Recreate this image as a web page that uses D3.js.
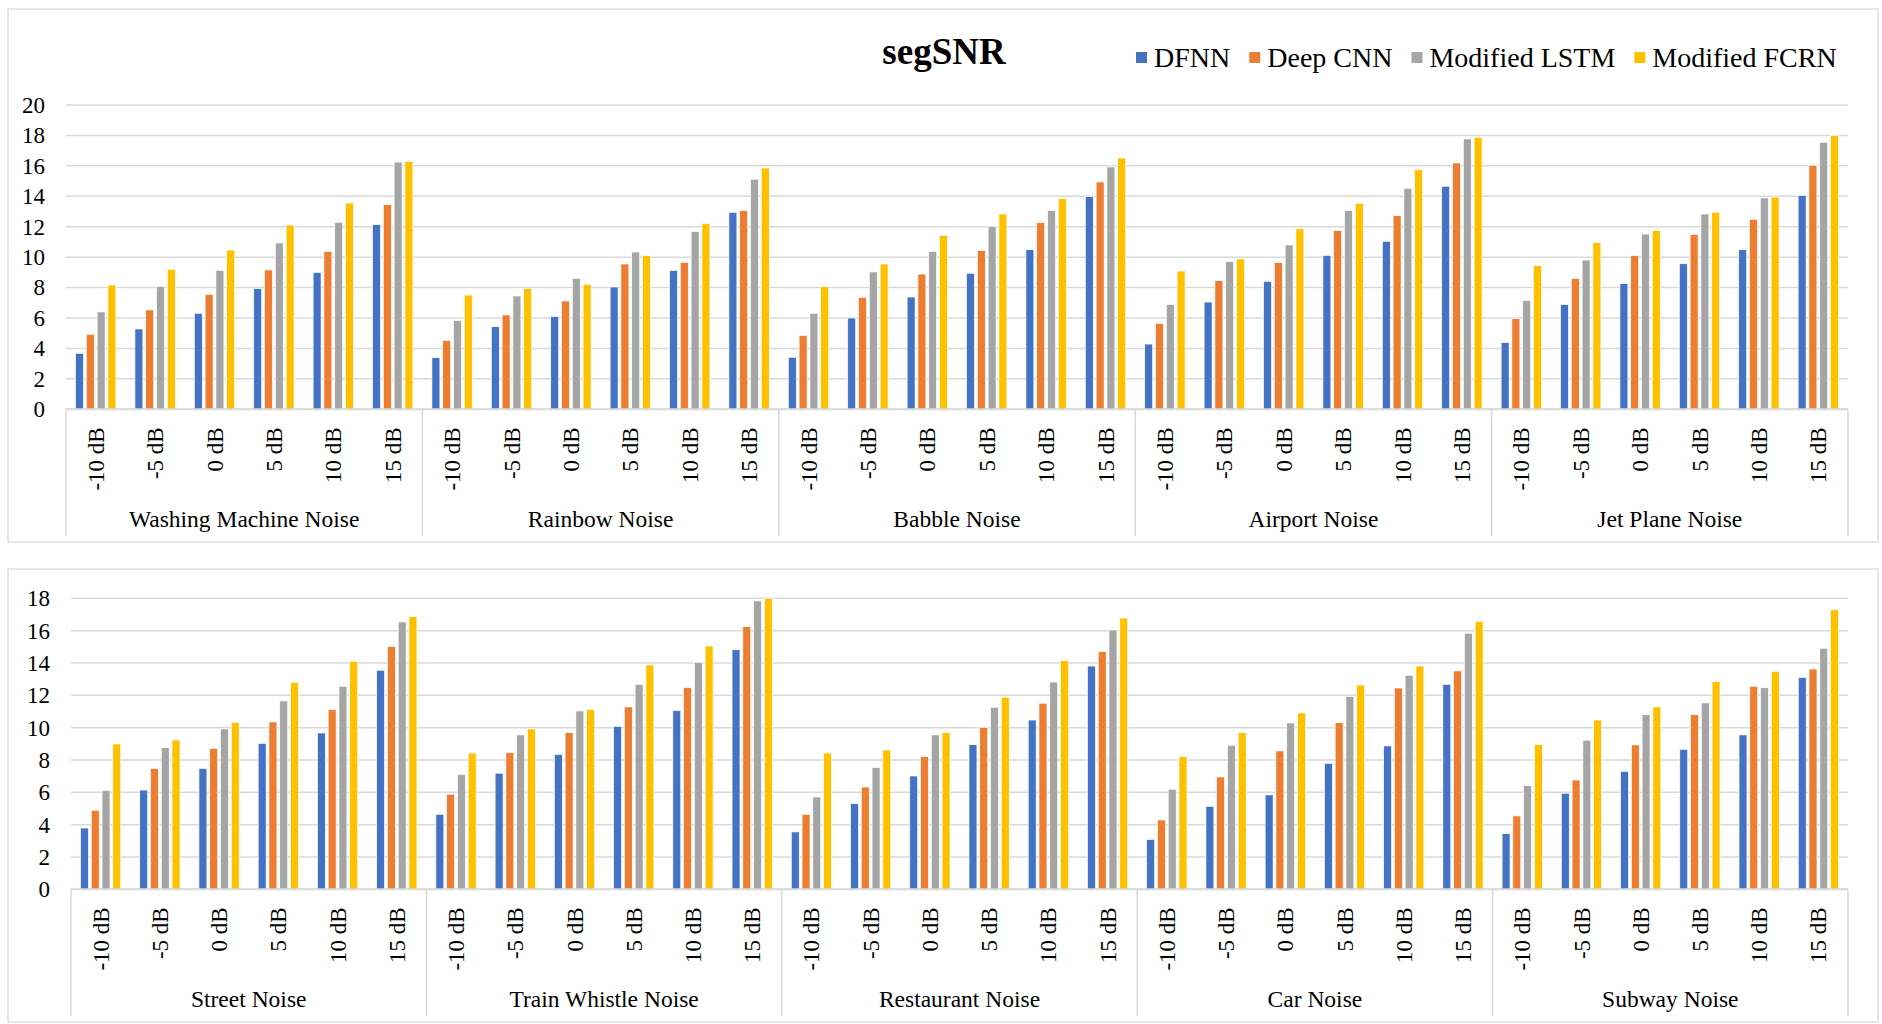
<!DOCTYPE html>
<html>
<head>
<meta charset="utf-8">
<script src="https://cdn.jsdelivr.net/npm/d3@7"></script>
<style>
  html, body { margin: 0; padding: 0; background: #fff; }
  svg { display: block; }
  text { font-family: "Liberation Serif", "Times New Roman", serif; fill: #000; }
</style>
</head>
<body>
<script>
// Categories
const levels = ["-10 dB", "-5 dB", "0 dB", "5 dB", "10 dB", "15 dB"];
const topNoises = ["Washing Machine Noise", "Rainbow Noise", "Babble Noise", "Airport Noise", "Jet Plane Noise"];
const bottomNoises = ["Street Noise", "Train Whistle Noise", "Restaurant Noise", "Car Noise", "Subway Noise"];
const seriesNames = ["DFNN", "Deep CNN", "Modified LSTM", "Modified FCRN"];
const seriesColors = ["#4472C4", "#ED7D31", "#A5A5A5", "#FFC000"];
const chartTitle = "segSNR";

// Tick values
const topTicks = [0, 2, 4, 6, 8, 10, 12, 14, 16, 18, 20];
const bottomTicks = [0, 2, 4, 6, 8, 10, 12, 14, 16, 18];

// segSNR values, upper panel (6 levels per noise, noises in order)
const dfnnTop = [3.68, 5.28, 6.31, 7.93, 9.00, 12.14,
                 3.40, 5.43, 6.11, 8.04, 9.13, 12.95,
                 3.42, 6.00, 7.38, 8.94, 10.49, 13.98,
                 4.29, 7.05, 8.41, 10.12, 11.04, 14.66,
                 4.38, 6.88, 8.26, 9.57, 10.49, 14.06];
const cnnTop  = [4.93, 6.53, 7.56, 9.16, 10.38, 13.45,
                 4.53, 6.20, 7.12, 9.55, 9.66, 13.06,
                 4.86, 7.36, 8.89, 10.43, 12.27, 14.94,
                 5.65, 8.46, 9.64, 11.76, 12.73, 16.19,
                 5.96, 8.61, 10.10, 11.50, 12.49, 16.04];
const lstmTop = [6.40, 8.08, 9.13, 10.93, 12.29, 16.25,
                 5.83, 7.45, 8.61, 10.34, 11.68, 15.12,
                 6.31, 9.03, 10.38, 12.03, 13.06, 15.93,
                 6.88, 9.70, 10.80, 13.06, 14.52, 17.77,
                 7.14, 9.81, 11.52, 12.84, 13.89, 17.55];
const fcrnTop = [8.17, 9.20, 10.47, 12.11, 13.56, 16.30,
                 7.51, 7.93, 8.21, 10.10, 12.22, 15.86,
                 8.06, 9.55, 11.43, 12.84, 13.84, 16.52,
                 9.09, 9.88, 11.87, 13.54, 15.77, 17.88,
                 9.44, 10.97, 11.74, 12.95, 13.95, 17.98];

// segSNR values, lower panel
const dfnnBottom = [3.79, 6.14, 7.48, 9.03, 9.67, 13.55,
                    4.64, 7.18, 8.35, 10.08, 11.05, 14.82,
                    3.55, 5.30, 7.01, 8.95, 10.47, 13.81,
                    3.09, 5.13, 5.84, 7.79, 8.87, 12.68,
                    3.44, 5.94, 7.30, 8.66, 9.55, 13.11];
const cnnBottom  = [4.89, 7.46, 8.72, 10.35, 11.11, 15.03,
                    5.88, 8.45, 9.69, 11.28, 12.47, 16.25,
                    4.64, 6.33, 8.21, 10.02, 11.51, 14.72,
                    4.29, 6.95, 8.56, 10.31, 12.45, 13.51,
                    4.54, 6.76, 8.93, 10.80, 12.56, 13.63];
const lstmBottom = [6.12, 8.76, 9.92, 11.65, 12.56, 16.54,
                    7.11, 9.55, 11.03, 12.68, 14.04, 17.84,
                    5.71, 7.53, 9.55, 11.26, 12.82, 16.04,
                    6.19, 8.91, 10.29, 11.92, 13.24, 15.84,
                    6.41, 9.22, 10.80, 11.53, 12.47, 14.91];
const fcrnBottom = [8.99, 9.24, 10.33, 12.80, 14.10, 16.87,
                    8.43, 9.92, 11.13, 13.88, 15.05, 18.00,
                    8.43, 8.62, 9.69, 11.88, 14.14, 16.78,
                    8.21, 9.69, 10.91, 12.64, 13.81, 16.58,
                    8.95, 10.47, 11.28, 12.85, 13.48, 17.30];

const W = 1882, H = 1024;
const GRID = "#d9d9d9";

const svg = d3.select("body").append("svg").attr("width", W).attr("height", H);

function drawPanel(cfg) {
  const g = svg.append("g");

  // outer chart frame
  g.append("rect")
    .attr("x", cfg.frame.x).attr("y", cfg.frame.y)
    .attr("width", cfg.frame.w).attr("height", cfg.frame.h)
    .attr("fill", "#fff").attr("stroke", GRID).attr("stroke-width", 1.3);

  const keys = cfg.noises.flatMap(n => levels.map(l => n + "|" + l));
  const x0 = d3.scaleBand().domain(keys)
    .range([cfg.left, cfg.right]).paddingInner(0.32).paddingOuter(0.16);
  const x1 = d3.scaleBand().domain(seriesNames)
    .range([0, x0.bandwidth()]).paddingInner(0.26);
  const xg = d3.scaleBand().domain(cfg.noises).range([cfg.left, cfg.right]);
  const y = d3.scaleLinear().domain([0, d3.max(cfg.ticks)]).range([cfg.bottom, cfg.top]);

  // horizontal gridlines
  g.append("g").selectAll("line").data(cfg.ticks).join("line")
    .attr("x1", cfg.left).attr("x2", cfg.right)
    .attr("y1", d => y(d)).attr("y2", d => y(d))
    .attr("stroke", GRID).attr("stroke-width", 1.5);

  // y tick labels
  const yAxis = g.append("g")
    .attr("transform", `translate(${cfg.left},0)`)
    .call(d3.axisLeft(y).tickValues(cfg.ticks).tickSize(0).tickPadding(21).tickFormat(d3.format("d")));
  yAxis.select(".domain").remove();
  yAxis.selectAll("text")
    .style("font-family", '"Liberation Serif", "Times New Roman", serif')
    .style("font-size", "23px").attr("fill", "#000");

  // bars
  cfg.values.forEach((vals, si) => {
    g.append("g").selectAll("rect").data(vals).join("rect")
      .attr("x", (d, i) => x0(keys[i]) + x1(seriesNames[si]))
      .attr("y", d => y(d))
      .attr("width", x1.bandwidth())
      .attr("height", d => y(0) - y(d))
      .attr("fill", seriesColors[si])
      .attr("stroke", "#fff").attr("stroke-width", 0.7);
  });

  // category axis line
  g.append("line")
    .attr("x1", cfg.left).attr("x2", cfg.right)
    .attr("y1", y(0)).attr("y2", y(0))
    .attr("stroke", GRID).attr("stroke-width", 2);

  // rotated level labels
  const xAxis = g.append("g")
    .attr("transform", `translate(0,${y(0)})`)
    .call(d3.axisBottom(x0).tickSize(0).tickFormat(d => d.split("|")[1]));
  xAxis.select(".domain").remove();
  xAxis.selectAll("text")
    .attr("transform", "translate(0,18) rotate(-90)")
    .attr("x", 0).attr("y", 0).attr("dy", "0.35em")
    .attr("text-anchor", "end")
    .style("font-family", '"Liberation Serif", "Times New Roman", serif')
    .style("font-size", "23px").attr("fill", "#000");

  // group separators
  const seps = cfg.noises.map(n => xg(n)).concat([cfg.right]);
  g.append("g").selectAll("line").data(seps).join("line")
    .attr("x1", d => d).attr("x2", d => d)
    .attr("y1", y(0)).attr("y2", cfg.sepBottom)
    .attr("stroke", GRID).attr("stroke-width", 1.5);

  // noise group labels
  g.append("g").selectAll("text").data(cfg.noises).join("text")
    .attr("x", d => xg(d) + xg.bandwidth() / 2)
    .attr("y", y(0) + 118)
    .attr("text-anchor", "middle")
    .style("font-size", "23.5px")
    .text(d => d);
}

drawPanel({
  frame: { x: 8, y: 9, w: 1870, h: 533 },
  left: 66, right: 1848, top: 105, bottom: 409.3,
  ticks: topTicks, noises: topNoises, sepBottom: 536,
  values: [dfnnTop, cnnTop, lstmTop, fcrnTop]
});

drawPanel({
  frame: { x: 8, y: 569, w: 1870, h: 453 },
  left: 71, right: 1848, top: 598.3, bottom: 889.3,
  ticks: bottomTicks, noises: bottomNoises, sepBottom: 1016,
  values: [dfnnBottom, cnnBottom, lstmBottom, fcrnBottom]
});

// title
svg.append("text")
  .attr("x", 944).attr("y", 64)
  .attr("text-anchor", "middle")
  .style("font-size", "37px").style("font-weight", "bold")
  .text(chartTitle);

// legend
const legend = svg.append("g").attr("transform", "translate(1136,67)");
let lx = 0;
seriesNames.forEach((name, i) => {
  const item = legend.append("g").attr("transform", `translate(${lx},0)`);
  item.append("rect")
    .attr("x", 0).attr("y", -15).attr("width", 11).attr("height", 11)
    .attr("fill", seriesColors[i]);
  const t = item.append("text")
    .attr("x", 18).attr("y", 0)
    .style("font-size", "28px")
    .text(name);
  lx += 18 + t.node().getComputedTextLength() + 19;
});
</script>
</body>
</html>
